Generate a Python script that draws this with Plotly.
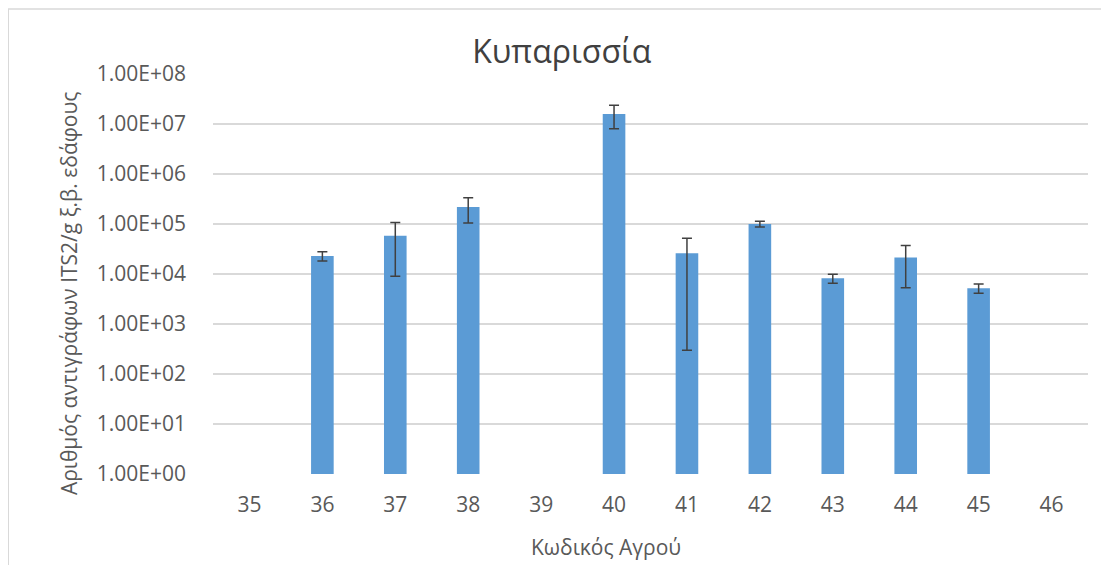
import plotly.graph_objects as go

# Κωδικός αγρού (field code) and mean ITS2 copies per g dry soil
fields = ['35', '36', '37', '38', '39', '40', '41', '42', '43', '44', '45', '46']
copies = [None, 2.3e4, 5.8e4, 2.2e5, None, 1.58e7, 2.6e4, 1.0e5, 8.2e3, 2.13e4, 5.2e3, None]
errors = [None, 4.8e3, 4.9e4, 1.15e5, None, 7.8e6, 2.57e4, 1.3e4, 1.7e3, 1.6e4, 1.1e3, None]

tick_vals = [1e0, 1e1, 1e2, 1e3, 1e4, 1e5, 1e6, 1e7, 1e8]
tick_text = ['1.00E+00', '1.00E+01', '1.00E+02', '1.00E+03', '1.00E+04',
             '1.00E+05', '1.00E+06', '1.00E+07', '1.00E+08']

text_grey = '#595959'
font = 'Open Sans'

fig = go.Figure()
fig.add_trace(go.Bar(
    x=fields,
    y=copies,
    marker=dict(color='#5B9BD5', line=dict(width=0)),
    error_y=dict(type='data', array=errors, visible=True,
                 color='#404040', thickness=1.5, width=5),
))

# the page body adds 8px, so the figure is a little smaller than the window
fig.update_layout(
    width=1101, height=557,
    paper_bgcolor='white', plot_bgcolor='white',
    margin=dict(l=205, r=21, t=66, b=91),
    showlegend=False,
    bargap=0.69,
    font=dict(family=font, color=text_grey),
    title=dict(text='Κυπαρισσία', x=0.503, xanchor='center',
               xref='container', yref='container', y=0.921, yanchor='middle',
               font=dict(size=32, color='#404040', family=font)),
)

fig.update_xaxes(
    type='category',
    showgrid=False, zeroline=False, showline=False, ticks='',
    tickfont=dict(size=21, color=text_grey),
    ticklabelstandoff=16,
)

fig.update_yaxes(
    type='log', range=[0, 8],
    tickvals=tick_vals, ticktext=tick_text,
    showgrid=True, gridcolor='#D9D9D9', gridwidth=1.5,
    showline=False, zeroline=False, ticks='',
    tickfont=dict(size=21, color=text_grey),
    ticklabelstandoff=26,
)

# axis titles sit off-centre in the original, so place them as annotations
fig.add_annotation(text='Κωδικός Αγρού', xref='paper', yref='paper',
                   x=0.449, y=-0.183, xanchor='center', yanchor='middle',
                   showarrow=False, font=dict(size=21, color=text_grey))
fig.add_annotation(text='Αριθμός αντιγράφων ITS2/g ξ.β. εδάφους',
                   xref='paper', yref='paper', textangle=-90,
                   x=-0.1645, y=0.45, xanchor='center', yanchor='middle',
                   showarrow=False, font=dict(size=21, color=text_grey))

# light border around the chart area, as in the original export
fig.add_shape(type='rect', xref='paper', yref='paper',
              x0=-0.234, x1=1.05, y0=-0.3, y1=1.1625,
              line=dict(color='#D9D9D9', width=1.5), fillcolor='rgba(0,0,0,0)',
              layer='below')

fig.write_html('out.html')
